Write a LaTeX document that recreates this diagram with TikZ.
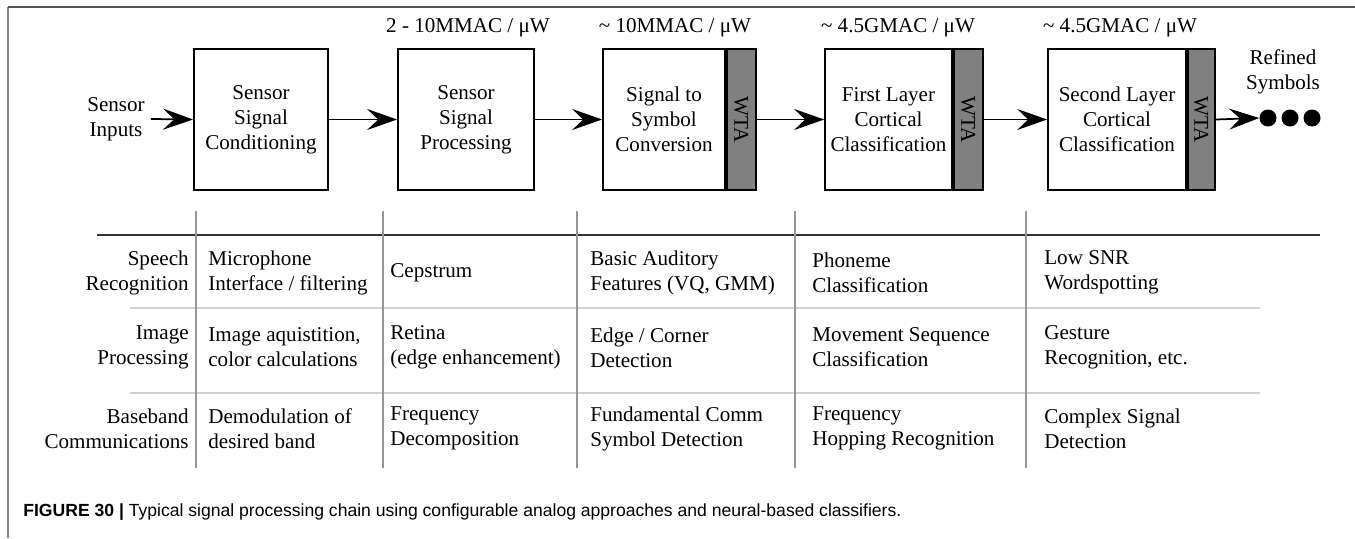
\documentclass[tikz,border=0pt]{standalone}
\usepackage{fontspec}
\setmainfont{Liberation Serif}
\newfontfamily\capfont{Liberation Sans}
\usepackage{xcolor}
\usepackage{tikz}
\usetikzlibrary{arrows.meta,positioning,calc}
\definecolor{framegray}{RGB}{85,85,85}
\definecolor{edgegray}{RGB}{130,130,130}
\definecolor{rulegray}{RGB}{150,150,150}
\definecolor{lightrule}{RGB}{210,210,210}
\definecolor{wtagray}{RGB}{128,128,128}

\begin{document}
\begin{tikzpicture}[
    x=0.02cm, y=-0.02cm,
    every node/.style={font=\fontsize{12}{14.2}\selectfont},
    stage/.style={rectangle, draw=black, line width=1pt, fill=white, minimum width=#1, minimum height=2.82cm, align=center, inner sep=0pt},
    wta/.style={rectangle, draw=black, line width=1pt, fill=wtagray, minimum width=0.58cm, minimum height=2.82cm, inner sep=0pt, anchor=west},
    rate/.style={align=center, inner sep=0pt},
    rowlabel/.style={anchor=east, align=right, inner sep=0pt},
    cell/.style={anchor=west, align=left, inner sep=0pt},
    enddot/.style={circle, fill=black, minimum size=0.34cm, inner sep=0pt},
    arrow/.style={-{Stealth[length=0.6cm,width=0.42cm,inset=0.22cm]}, line width=1pt}
]
\useasboundingbox (0,0) rectangle (1355,538);

% Outer frame (top and left edges only)
\draw[edgegray, line width=1.1pt] (8,538) -- (8,7);
\draw[framegray, line width=1pt] (8,7) -- (1355,7);

% Processing chain
\node[align=center] (inputs) at (116,119) {Sensor\\Inputs};
\node[stage=2.68cm] (cond) at (261,119.5) {Sensor\\Signal\\Conditioning};
\node[stage=2.72cm] (proc) at (466,119.5) {Sensor\\Signal\\Processing};
\node[stage=2.44cm] (conv) at (664,119.5) {Signal to\\Symbol\\Conversion};
\node[stage=2.54cm] (first) at (888.5,119.5) {First Layer\\Cortical\\Classification};
\node[stage=2.76cm] (second) at (1117,119.5) {Second Layer\\Cortical\\Classification};

% WTA strips on the right side of the last three stages
\node[wta] (convwta) at (conv.east) {};
\node[rotate=-90] at (convwta) {WTA};
\node[wta] (firstwta) at (first.east) {};
\node[rotate=-90] at (firstwta) {WTA};
\node[wta, minimum width=0.54cm] (secondwta) at (second.east) {};
\node[rotate=-90] at (secondwta) {WTA};

% Throughput labels above the stages
\node[rate] (procrate) at (468,28) {2 - 10MMAC / μW};
\node[rate] (convrate) at (675,28) {\textasciitilde{} 10MMAC / μW};
\node[rate] (firstrate) at (898,28) {\textasciitilde{} 4.5GMAC / μW};
\node[rate] (secondrate) at (1120,28) {\textasciitilde{} 4.5GMAC / μW};

% Output
\node[align=center] (refined) at (1283,72) {Refined\\Symbols};
\node[enddot] (dotA) at (1268,118) {};
\node[enddot] (dotB) at (1290,118) {};
\node[enddot] (dotC) at (1312,118) {};

% Arrows between stages
\draw[arrow] (inputs.east) -- (cond.west);
\draw[arrow] (cond.east) -- (proc.west);
\draw[arrow] (proc.east) -- (conv.west);
\draw[arrow] (convwta.east) -- (first.west);
\draw[arrow] (firstwta.east) -- (second.west);
\draw[arrow] (secondwta.east) -- (dotA.west);

% Table rules
\draw[black!80, line width=1.1pt] (97,235) -- (1320,235);
\foreach \ry in {308,393}
    \draw[lightrule, line width=1.1pt] (130,\ry) -- (1260,\ry);
\foreach \cx in {196,383,577,795,1026}
    \draw[rulegray, line width=0.8pt] (\cx,211) -- (\cx,468);

% Row labels
\node[rowlabel] (speech) at (189,272.5) {Speech\\Recognition};
\node[rowlabel] (image) at (189,347.5) {Image\\Processing};
\node[rowlabel] (baseband) at (189,428.5) {Baseband\\Communications};

% Speech recognition row
\node[cell] (sp1) at (208,272.5) {Microphone\\Interface / filtering};
\node[cell] (sp2) at (390,272.5) {Cepstrum};
\node[cell] (sp3) at (590,272.5) {Basic Auditory\\Features (VQ, GMM)};
\node[cell] (sp4) at (812,272.5) {Phoneme\\Classification};
\node[cell] (sp5) at (1044,272.5) {Low SNR\\Wordspotting};

% Image processing row
\node[cell] (im1) at (208,347.5) {Image aquistition,\\color calculations};
\node[cell] (im2) at (390,347.5) {Retina\\(edge enhancement)};
\node[cell] (im3) at (590,347.5) {Edge / Corner\\Detection};
\node[cell] (im4) at (812,347.5) {Movement Sequence\\Classification};
\node[cell] (im5) at (1044,347.5) {Gesture\\Recognition, etc.};

% Baseband communications row
\node[cell] (bb1) at (208,428.5) {Demodulation of\\desired band};
\node[cell] (bb2) at (390,428.5) {Frequency\\Decomposition};
\node[cell] (bb3) at (590,428.5) {Fundamental Comm\\Symbol Detection};
\node[cell] (bb4) at (812,428.5) {Frequency\\Hopping Recognition};
\node[cell] (bb5) at (1044,428.5) {Complex Signal\\Detection};

% Caption
\node[anchor=west, inner sep=0pt, font=\capfont\fontsize{10}{12}\selectfont] (caption) at (23,512)
    {\textbf{FIGURE 30 |} Typical signal processing chain using configurable analog approaches and neural-based classifiers.};

\end{tikzpicture}
\end{document}
